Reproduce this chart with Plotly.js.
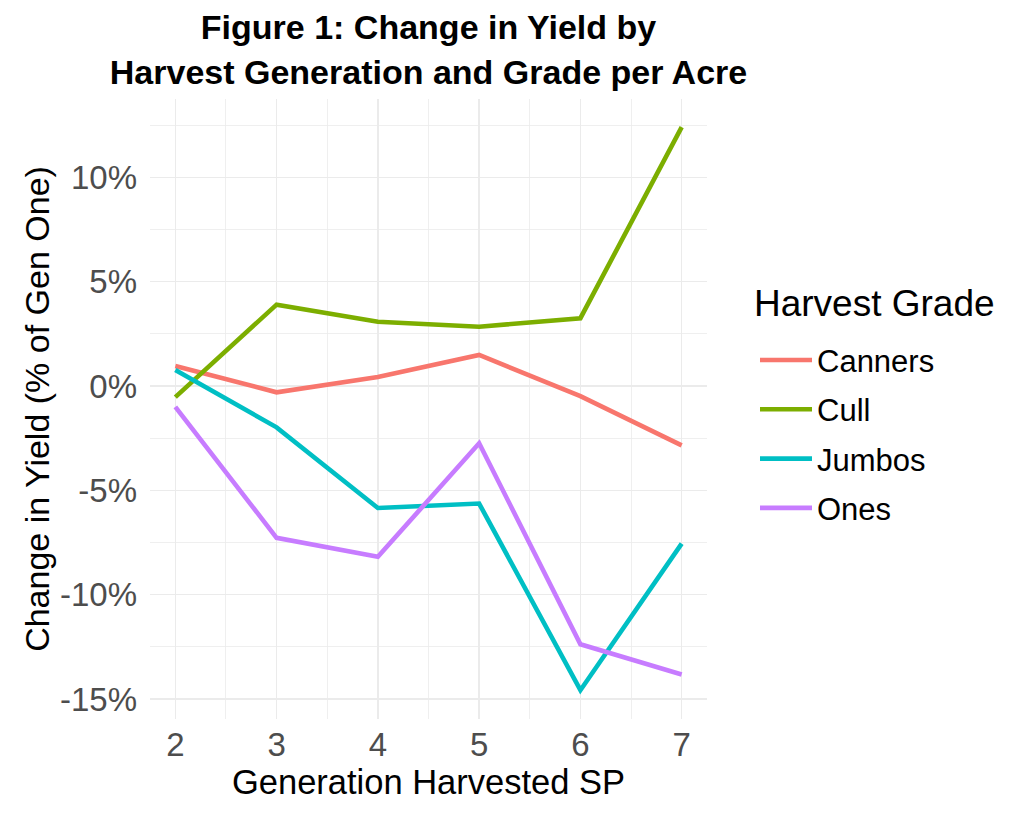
<!DOCTYPE html>
<html>
<head>
<meta charset="utf-8">
<script src="https://cdn.plot.ly/plotly-3.0.1.min.js"></script>
<style>
  html, body { margin: 0; padding: 0; background: #fff; }
  #chart { width: 1027px; height: 821px; }
</style>
</head>
<body>
<div id="chart"></div>
<script>
// generation harvested (x) and change in yield, % of gen one (y)
const generations = [2, 3, 4, 5, 6, 7];
const canners = [0.96, -0.3, 0.43, 1.49, -0.48, -2.84];
const cull = [-0.53, 3.9, 3.08, 2.84, 3.25, 12.4];
const jumbos = [0.77, -1.98, -5.84, -5.63, -14.57, -7.55];
const ones = [-1.0, -7.27, -8.18, -2.74, -12.37, -13.82];

const gradeNames = ['Canners', 'Cull', 'Jumbos', 'Ones'];
const gradeColors = ['#F8766D', '#7CAE00', '#00BFC4', '#C77CFF'];

const yTickVals = [-15, -10, -5, 0, 5, 10];
const yTickText = ['-15%', '-10%', '-5%', '0%', '5%', '10%'];
const yMinorVals = [-12.5, -7.5, -2.5, 2.5, 7.5, 12.5];
const xMinorVals = [2.5, 3.5, 4.5, 5.5, 6.5];

const font = 'Liberation Sans, Arial, Helvetica, sans-serif';
const gridCol = '#EBEBEB';

const series = [canners, cull, jumbos, ones];
const traces = series.map((vals, i) => ({
    x: generations,
    y: vals,
    name: gradeNames[i],
    legendgroup: gradeNames[i],
    type: 'scatter',
    mode: 'lines',
    line: { color: gradeColors[i], width: 4.6 }
}));

const layout = {
    width: 1027,
    height: 821,
    paper_bgcolor: '#fff',
    plot_bgcolor: '#fff',
    margin: { l: 150, r: 320, t: 99, b: 102 },
    font: { family: font, color: '#000' },
    title: {
        text: '<b>Figure 1: Change in Yield by<br>Harvest Generation and Grade per Acre</b>',
        font: { size: 34, color: '#000' },
        x: 0.5, xref: 'paper', xanchor: 'center',
        y: 0.952, yref: 'container', yanchor: 'top'
    },
    xaxis: {
        range: [1.75, 7.25],
        tickvals: generations,
        showgrid: true, gridcolor: gridCol, gridwidth: 1.4,
        zeroline: false, showline: false, ticks: '',
        ticklabelstandoff: 3,
        tickfont: { size: 33, color: '#4D4D4D' },
        minor: { tickvals: xMinorVals, showgrid: true, gridcolor: gridCol, gridwidth: 0.8, ticks: '' },
        title: { text: 'Generation Harvested SP', font: { size: 34.5, color: '#000' }, standoff: 6 }
    },
    yaxis: {
        range: [-15.95, 13.75],
        tickmode: 'array',
        tickvals: yTickVals,
        ticktext: yTickText,
        showgrid: true, gridcolor: gridCol, gridwidth: 1.4,
        zeroline: false, showline: false, ticks: '',
        ticklabelstandoff: 12,
        tickfont: { size: 33, color: '#4D4D4D' },
        minor: { tickvals: yMinorVals, showgrid: true, gridcolor: gridCol, gridwidth: 0.8, ticks: '' },
        title: { text: 'Change in Yield (% of Gen One)', font: { size: 34, color: '#000' }, standoff: 0 }
    },
    showlegend: true,
    legend: {
        x: (755 - 150) / 557, xanchor: 'left',
        y: 0.622, yanchor: 'top',
        tracegroupgap: 6,
        itemwidth: 52,
        font: { size: 31, color: '#000' },
        bgcolor: 'rgba(0,0,0,0)'
    },
    annotations: [{
        text: 'Harvest Grade',
        xref: 'paper', yref: 'paper',
        x: (752 - 150) / 557, xanchor: 'left',
        y: (719 - 303) / 620, yanchor: 'middle',
        showarrow: false,
        font: { size: 37, color: '#000' }
    }]
};

Plotly.newPlot('chart', traces, layout, { displayModeBar: false, staticPlot: true });
</script>
</body>
</html>
